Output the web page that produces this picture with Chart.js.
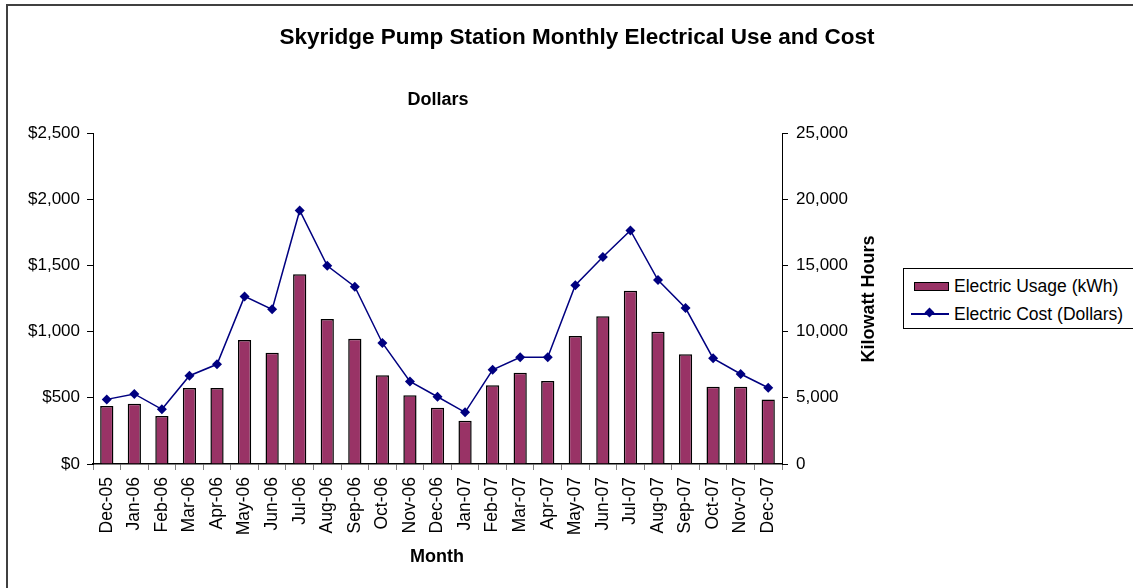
<!DOCTYPE html>
<html lang="en">
<head>
  <meta charset="UTF-8" />
  <title>Skyridge Pump Station Monthly Electrical Use and Cost</title>
  <script src="https://cdn.jsdelivr.net/npm/chart.js@4.4.1/dist/chart.umd.min.js"></script>
  <style>
    body { margin: 0; background: #fff; }
    #wrap { position: relative; width: 1133px; height: 588px; overflow: hidden; font-family: "Liberation Sans", Arial, sans-serif; }
    #frame { position: absolute; left: 6px; top: 4px; width: 1200px; height: 700px; border-left: 2px solid #404040; border-top: 2px solid #404040; pointer-events: none; }
    #legend { position: absolute; left: 903px; top: 268px; width: 250px; height: 59px; border: 1px solid #000; background: #fff; font-size: 17.5px; color: #000; }
    .item { position: absolute; left: 0; height: 22px; line-height: 22px; white-space: nowrap; }
    .item span { position: absolute; left: 50px; top: 0; }
  </style>
</head>
<body>
  <div id="wrap">
    <canvas id="chart" width="1133" height="588"></canvas>
    <div id="frame"></div>
    <div id="legend"></div>
  </div>

  <script>
    // months on the category axis
    let months = ['Dec-05', 'Jan-06', 'Feb-06', 'Mar-06', 'Apr-06', 'May-06', 'Jun-06', 'Jul-06', 'Aug-06',
      'Sep-06', 'Oct-06', 'Nov-06', 'Dec-06', 'Jan-07', 'Feb-07', 'Mar-07', 'Apr-07', 'May-07', 'Jun-07',
      'Jul-07', 'Aug-07', 'Sep-07', 'Oct-07', 'Nov-07', 'Dec-07'];
    // monthly usage, kWh (right axis)
    let usageKwh = [4380, 4550, 3620, 5740, 5740, 9360, 8400, 14340, 10950, 9460, 6700, 5190, 4250,
      3270, 5940, 6890, 6270, 9660, 11150, 13080, 9990, 8280, 5840, 5840, 4880];
    // monthly cost, dollars (left axis)
    let costDollars = [488, 529, 413, 667, 753, 1266, 1168, 1915, 1497, 1339, 914, 624, 508,
      390, 712, 806, 806, 1351, 1563, 1764, 1389, 1178, 798, 680, 576];
    // tick values
    let dollarTicks = [0, 500, 1000, 1500, 2000, 2500];
    let kwhTicks = [0, 5000, 10000, 15000, 20000, 25000];

    const FONT = '"Liberation Sans", Arial, sans-serif';
    const plum = '#993366';
    const navy = '#000080';

    // draws the title and the axis captions at fixed spots, like the Excel original
    const captions = {
      id: 'captions',
      afterDraw(chart) {
        const ctx = chart.ctx;
        ctx.save();
        ctx.fillStyle = '#000';
        ctx.textAlign = 'center';
        ctx.textBaseline = 'middle';
        ctx.font = 'bold 22.5px ' + FONT;
        ctx.fillText('Skyridge Pump Station Monthly Electrical Use and Cost', 577, 38);
        ctx.font = 'bold 18px ' + FONT;
        ctx.fillText('Dollars', 438, 100);
        ctx.fillText('Month', 437, 557);
        ctx.translate(869, 299);
        ctx.rotate(-Math.PI / 2);
        ctx.fillText('Kilowatt Hours', 0, 0);
        ctx.restore();
      }
    };

    let ctx = document.getElementById('chart').getContext('2d');
    let chart = new Chart(ctx, {
      type: 'bar',
      data: {
        labels: months,
        datasets: [{
          type: 'line',
          label: 'Electric Cost (Dollars)',
          data: costDollars,
          yAxisID: 'y',
          order: 1,
          borderColor: navy,
          backgroundColor: navy,
          borderWidth: 1.5,
          pointStyle: 'rectRot',
          pointRadius: 5,
          pointBorderWidth: 0,
          tension: 0
        }, {
          type: 'bar',
          label: 'Electric Usage (kWh)',
          data: usageKwh,
          yAxisID: 'y1',
          order: 2,
          backgroundColor: plum,
          borderColor: '#000',
          borderWidth: 1.5,
          barPercentage: 0.48,
          categoryPercentage: 1
        }]
      },
      options: {
        responsive: false,
        animation: false,
        layout: { padding: { left: 0, top: 133, right: 261, bottom: 0 } },
        plugins: {
          legend: { display: false },
          tooltip: { enabled: false }
        },
        scales: {
          x: {
            offset: true,
            grid: { display: true, offset: true, drawOnChartArea: false, tickLength: 6, color: '#808080' },
            border: { display: true, color: '#000', width: 1.5 },
            ticks: { minRotation: 90, maxRotation: 90, autoSkip: false, padding: 7, color: '#000', font: { family: FONT, size: 17.5 } },
            afterFit: (scale) => { scale.height = 124; }
          },
          y: {
            position: 'left',
            min: dollarTicks[0],
            max: dollarTicks[dollarTicks.length - 1],
            afterBuildTicks: (scale) => { scale.ticks = dollarTicks.map(v => ({ value: v })); },
            grid: { drawOnChartArea: false, tickLength: 6, color: '#000' },
            border: { display: true, color: '#000', width: 1 },
            ticks: {
              padding: 7, color: '#000', font: { family: FONT, size: 17 },
              callback: (v) => '$' + v.toLocaleString('en-US')
            },
            afterFit: (scale) => { scale.width = 93; }
          },
          y1: {
            position: 'right',
            min: kwhTicks[0],
            max: kwhTicks[kwhTicks.length - 1],
            afterBuildTicks: (scale) => { scale.ticks = kwhTicks.map(v => ({ value: v })); },
            grid: { drawOnChartArea: false, tickLength: 6, color: '#000' },
            border: { display: true, color: '#000', width: 1 },
            ticks: {
              padding: 8, color: '#000', font: { family: FONT, size: 17 },
              callback: (v) => v.toLocaleString('en-US')
            },
            afterFit: (scale) => { scale.width = 90; }
          }
        }
      },
      plugins: [captions]
    });

    // legend in a bordered box, built from the datasets
    let legend = document.getElementById('legend');
    let usage = chart.data.datasets[1];
    let cost = chart.data.datasets[0];
    legend.innerHTML =
      '<div class="item" style="top:6px"><i style="position:absolute;left:10px;top:7px;width:33px;height:7px;background:' + plum + ';border:1px solid #000"></i><span>' + usage.label + '</span></div>' +
      '<div class="item" style="top:34px"><i style="position:absolute;left:7px;top:10px;width:38px;height:1.5px;background:' + navy + '"></i>' +
      '<i style="position:absolute;left:22px;top:6px;width:7px;height:7px;background:' + navy + ';transform:rotate(45deg)"></i><span>' + cost.label + '</span></div>';
  </script>
</body>
</html>
